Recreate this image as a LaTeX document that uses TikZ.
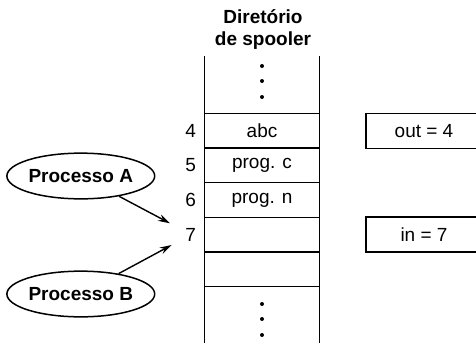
\documentclass[tikz,border=0pt]{standalone}
\usepackage{fontspec}
\setmainfont{Liberation Sans}
\usetikzlibrary{arrows.meta,shapes.geometric}

\tikzset{
  cell/.style={draw, line width=1.5pt, minimum width=115pt, minimum height=34.6pt, inner sep=0pt},
  varbox/.style={draw, line width=1.5pt, minimum width=116pt, minimum height=35pt, inner sep=0pt},
  proc/.style={draw, ellipse, line width=1.5pt, minimum width=125pt, minimum height=45.7pt, inner sep=0pt, font=\fontsize{19}{22}\selectfont\bfseries},
  slotnum/.style={inner sep=0pt},
  ptr/.style={-{Stealth[length=12pt,width=7pt]}, line width=1.4pt},
}

\begin{document}
\begin{tikzpicture}[x=1pt,y=-1pt,font=\fontsize{19}{22}\selectfont]
  \useasboundingbox (0,0) rectangle (476,343);
  \node[align=center, font=\fontsize{19}{22}\selectfont\bfseries] (title) at (263,30) {Diretório\\de spooler};
  \draw[line width=1.5pt] (204.5,56) -- (204.5,343) (319.5,56) -- (319.5,343);
  \foreach \i/\txt in {4/abc,5/prog. c,6/prog. n,7/,8/}
    \node[cell] (c\i) at (262,{130.8+34.6*(\i-4)}) {\txt};
  \foreach \i in {4,...,7}
    \node[slotnum] (n\i) at (190.7,{130.8+34.6*(\i-4)}) {\i};
  \foreach \y in {66,81,97,304,319,335}
    \fill (262,\y) circle (2pt);
  \node[varbox] (out) at (424,131) {out = 4};
  \node[varbox] (in) at (424,234.6) {in = 7};
  \node[proc] (pa) at (80.8,176) {Processo A};
  \node[proc] (pb) at (80.8,294) {Processo B};
  \coordinate (tipA) at (170,223.3);
  \coordinate (tipB) at (171.7,245);
  \draw[ptr] (pa) -- (tipA);
  \draw[ptr] (pb) -- (tipB);
\end{tikzpicture}
\end{document}
